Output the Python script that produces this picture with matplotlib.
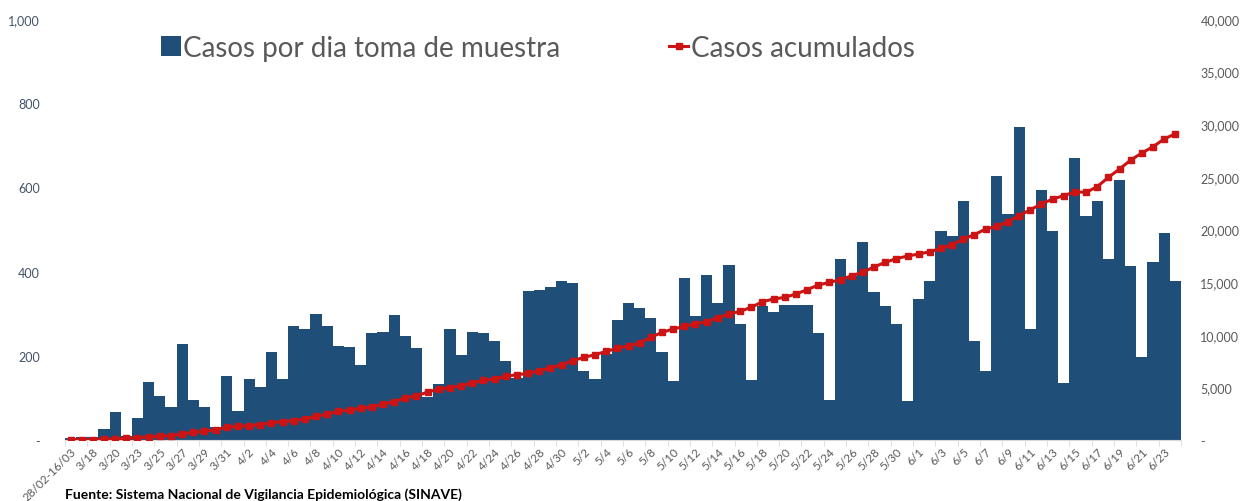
import matplotlib
matplotlib.use("Agg")
import matplotlib.pyplot as plt
import numpy as np
import pandas as pd

# categorias (fecha de toma de muestra)
fechas = ["28/02-16/03", "3/17", "3/18", "3/19", "3/20", "3/21"] + \
    [f"{d.month}/{d.day}" for d in pd.date_range("2020-03-23", "2020-06-24")]

# casos por dia
casos_dia = [4, 6, 8, 26, 67, 10, 53, 138, 104, 78,
             228, 96, 78, 32, 153, 69, 145, 126, 208, 145,
             272, 264, 300, 272, 224, 222, 178, 254, 257, 298,
             246, 218, 101, 133, 264, 203, 256, 254, 235, 188,
             147, 354, 357, 363, 377, 373, 164, 145, 205, 284,
             326, 313, 291, 208, 139, 385, 295, 393, 325, 415,
             276, 143, 319, 304, 321, 321, 321, 255, 96, 429,
             390, 471, 352, 318, 275, 92, 335, 378, 497, 485,
             568, 235, 164, 626, 538, 743, 264, 595, 496, 135,
             670, 531, 568, 431, 617, 414, 198, 423, 492, 377]

# casos acumulados
casos_acum = [20, 30, 40, 70, 95, 160, 220, 285, 350, 410,
              570, 730, 825, 980, 1200, 1300, 1360, 1455, 1645, 1740,
              1835, 2000, 2250, 2470, 2725, 2850, 3010, 3135, 3420, 3640,
              4020, 4180, 4560, 4845, 4970, 5160, 5415, 5670, 5795, 6050,
              6205, 6335, 6585, 6840, 7155, 7535, 7855, 8105, 8425, 8710,
              8960, 9215, 9755, 10230, 10545, 10800, 11050, 11240, 11620, 11970,
              12225, 12610, 13140, 13395, 13555, 13870, 14280, 14725, 14980, 15230,
              15610, 15950, 16440, 16880, 17230, 17480, 17670, 17890, 18210, 18560,
              19100, 19510, 20050, 20300, 20740, 21310, 21880, 22420, 22900, 23210,
              23590, 23530, 24070, 24960, 25750, 26600, 27270, 27870, 28600, 29100]

azul = "#1F4E79"
rojo = "#CC1414"
gris = "#595959"

plt.rcParams['font.family'] = ['Lato', 'DejaVu Sans']

fig = plt.figure(figsize=(12.49, 5.02), dpi=100)
ax = fig.add_axes([0.052, 0.1215, 0.8935, 0.8386])
ax2 = ax.twinx()

x = np.arange(len(fechas))
barras = ax.bar(x, casos_dia, width=1.0, color=azul, label="Casos por dia toma de muestra")
linea, = ax2.plot(x, casos_acum, color=rojo, lw=2.2, marker="s", ms=4.5,
                  label="Casos acumulados")

ax.set_xlim(-0.5, len(fechas) - 0.5)
ax.set_ylim(0, 1000)
ax2.set_ylim(0, 40000)

def fmt(v):
    return "-" if v == 0 else f"{int(v):,}"

ax.set_yticks(range(0, 1001, 200))
ax.set_yticklabels([fmt(v) for v in range(0, 1001, 200)], color="#44546A", fontsize=9)
ax2.set_yticks(range(0, 40001, 5000))
ax2.set_yticklabels([fmt(v) for v in range(0, 40001, 5000)], color=gris, fontsize=9)
ax.tick_params(axis="y", length=0, pad=18)
ax2.tick_params(axis="y", length=0, pad=14)

# etiquetas cada dos dias
ax.set_xticks(x[::2])
ax.set_xticklabels(fechas[::2], rotation=45, ha="right", rotation_mode="anchor",
                   color=gris, fontsize=8.5)
ax.tick_params(axis="x", length=0, pad=4)
ax.set_xticks(np.arange(-0.5, len(fechas), 2), minor=True)
ax.tick_params(axis="x", which="minor", length=4, color="#D9D9D9")

for a in (ax, ax2):
    for s in a.spines.values():
        s.set_visible(False)
ax.spines["bottom"].set_visible(True)
ax.spines["bottom"].set_color("#D9D9D9")

ax.legend(handles=[barras, linea], loc="center", bbox_to_anchor=(0.424, 0.932),
          ncol=2, frameon=False, fontsize=20, labelcolor=gris, handlelength=0.7,
          handletextpad=0.1, columnspacing=3.9)

fig.text(0.052, 0.006, "Fuente: Sistema Nacional de Vigilancia Epidemiológica (SINAVE)",
         fontsize=10, fontweight="bold", color="black")

fig.savefig("out.png", dpi=100)
